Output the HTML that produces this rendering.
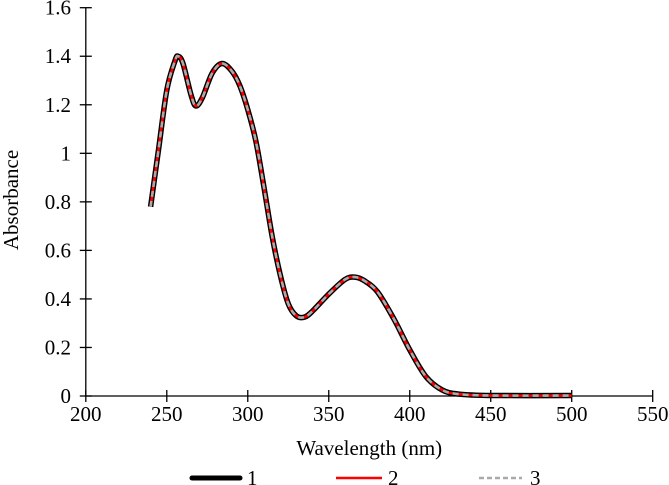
<!DOCTYPE html>
<html><head><meta charset="utf-8"><style>
body{margin:0;background:#fff}
svg{display:block}
text{font-family:"Liberation Serif","Times New Roman",serif}
</style></head><body>
<svg id="c" width="669" height="485"></svg>
<script>
const wavelengths=[240,245,250,255,257,260,265,268,272,278,284,290,295,300,305,310,315,320,325,330,335,340,350,360,366,372,380,390,400,410,420,430,450,500];
const absorbance=[0.78,1.02,1.26,1.38,1.40,1.37,1.24,1.195,1.23,1.33,1.37,1.34,1.28,1.18,1.05,0.86,0.66,0.50,0.38,0.33,0.325,0.35,0.42,0.48,0.49,0.475,0.43,0.32,0.19,0.08,0.025,0.008,0.002,0.002];
const xTicks=[200,250,300,350,400,450,500,550];
const yTicks=[0,0.2,0.4,0.6,0.8,1,1.2,1.4,1.6];
const seriesNames=["1","2","3"];
const NS="http://www.w3.org/2000/svg";
const svg=document.getElementById('c');
const X=v=>85.8+(v-200)*(652.7-85.8)/350;
const Y=v=>396-v*(396-7.7)/1.6;
const FF='"Liberation Serif", serif';
const FS=21;
function el(t,a,p){const e=document.createElementNS(NS,t);for(const k in a)e.setAttribute(k,a[k]);(p||svg).appendChild(e);return e;}
let ax=el('line',{x1:X(200),y1:Y(0),x2:X(550),y2:Y(0),stroke:'#000','stroke-width':1.3});

let ay=el('line',{x1:X(200),y1:Y(0),x2:X(200),y2:Y(1.6),stroke:'#000','stroke-width':1.3});

xTicks.forEach(v=>{
 const t=el('line',{x1:X(v),x2:X(v),y1:Y(0)-6,y2:Y(0)+6,stroke:'#000','stroke-width':1.3});
 
 const l=el('text',{x:X(v),y:421,'text-anchor':'middle','font-size':FS,'font-family':FF});l.textContent=v;
 
});
yTicks.forEach(v=>{
 const t=el('line',{x1:X(200)-6,x2:X(200)+6,y1:Y(v),y2:Y(v),stroke:'#000','stroke-width':1.3});
 
 const l=el('text',{x:71,y:Y(v)+7,'text-anchor':'end','font-size':FS,'font-family':FF});l.textContent=v;
 
});
let xt=el('text',{x:X(375),y:455,'text-anchor':'middle','font-size':FS,'font-family':FF});xt.textContent='Wavelength (nm)';

let yt=el('text',{x:0,y:0,'text-anchor':'middle','font-size':FS,'font-family':FF,transform:'translate(18,200) rotate(-90)'});yt.textContent='Absorbance';

const pts=wavelengths.map((w,i)=>[X(w),Y(absorbance[i])]);
let d='M'+pts[0][0]+','+pts[0][1];
for(let i=0;i<pts.length-1;i++){
 const p0=pts[Math.max(0,i-1)],p1=pts[i],p2=pts[i+1],p3=pts[Math.min(pts.length-1,i+2)];
 const c1=[p1[0]+(p2[0]-p0[0])/6,p1[1]+(p2[1]-p0[1])/6],c2=[p2[0]-(p3[0]-p1[0])/6,p2[1]-(p3[1]-p1[1])/6];
 d+=`C${c1[0]},${c1[1]} ${c2[0]},${c2[1]} ${p2[0]},${p2[1]}`;
}
const styles=[{stroke:'#000','stroke-width':5.5},{stroke:'#f00','stroke-width':2.6},{stroke:'#aaa','stroke-width':2.6,'stroke-dasharray':'6 4'}];
styles.forEach((s,i)=>{
 const p=el('path',Object.assign({d:d,fill:'none','stroke-linejoin':'round'},s));
 
});
const lx=[[192,240,247],[336,382,388],[479,522,530]];
styles.forEach((s,i)=>{
 const g=el('g',{});
 
 const st=Object.assign({},s);if(i===0)st['stroke-width']=5;if(i===2)st['stroke-dasharray']='5 3';
 el('line',Object.assign({x1:lx[i][0],x2:lx[i][1],y1:478,y2:478,'stroke-linecap':i===0?'round':'butt'},st),g);
 const t=el('text',{x:lx[i][2],y:485,'font-size':FS,'font-family':FF},g);t.textContent=seriesNames[i];
});
</script>
</body></html>
